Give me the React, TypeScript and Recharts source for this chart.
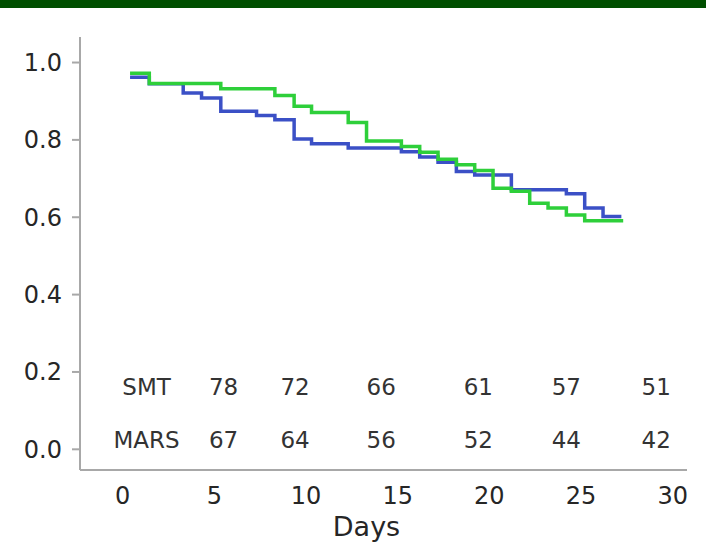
import React from "react";
import {
  ComposedChart,
  Line,
  Scatter,
  XAxis,
  YAxis,
} from "recharts";

// Kaplan-Meier estimates
const smtDays = [0.4, 1.45, 3.3, 4.3, 5.35, 7.3, 8.3, 9.35, 10.3, 12.3, 15.2, 16.2, 17.2, 18.2, 19.2, 21.2, 24.2, 25.2, 26.2, 27.2];
const smtSurv = [0.962, 0.945, 0.921, 0.908, 0.874, 0.863, 0.852, 0.802, 0.79, 0.779, 0.769, 0.756, 0.742, 0.718, 0.709, 0.671, 0.661, 0.624, 0.602, 0.602];

const marsDays = [0.4, 1.45, 5.35, 8.3, 9.35, 10.3, 12.3, 13.3, 15.2, 16.2, 17.2, 18.2, 19.2, 20.2, 21.2, 22.2, 23.2, 24.2, 25.2, 27.3];
const marsSurv = [0.972, 0.946, 0.932, 0.915, 0.887, 0.871, 0.845, 0.797, 0.783, 0.768, 0.75, 0.736, 0.721, 0.675, 0.667, 0.636, 0.624, 0.606, 0.591, 0.591];

// numbers at risk table
const riskGroups = ["SMT", "MARS"];
const riskDays = [5.5, 9.4, 14.1, 19.4, 24.2, 29.1];
const riskSmt = [78, 72, 66, 61, 57, 51];
const riskMars = [67, 64, 56, 52, 44, 42];
const riskLabelDay = 1.3;
const riskRowLevel = [0.161, 0.024];

const xTicks = [0, 5, 10, 15, 20, 25, 30];
const yTicks = [0, 0.2, 0.4, 0.6, 0.8, 1.0];

const smtData = smtDays.map((d, i) => ({ day: d, surv: smtSurv[i] }));
const marsData = marsDays.map((d, i) => ({ day: d, surv: marsSurv[i] }));

const tableData = [riskSmt, riskMars].flatMap((row, r) => [
  { day: riskLabelDay, level: riskRowLevel[r], text: riskGroups[r] },
  ...row.map((n, i) => ({ day: riskDays[i], level: riskRowLevel[r], text: String(n) })),
]);

const FONT = "'DejaVu Sans', Verdana, sans-serif";
const TEXT = "#262626";

const TableText = (props: any) => {
  const { cx, cy, payload } = props;
  return (
    <text
      x={cx}
      y={cy}
      textAnchor="middle"
      dominantBaseline="central"
      fontFamily={FONT}
      fontSize={23}
      fill="#333"
    >
      {payload.text}
    </text>
  );
};

export default function App() {
  return (
    <div
      style={{
        position: "absolute",
        left: 0,
        top: 0,
        width: 706,
        height: 549,
        background: "#fff",
      }}
    >
      <div style={{ position: "absolute", left: 0, top: 0, width: 706, height: 8, background: "#004f00" }} />
      <div style={{ position: "absolute", left: 0, top: 0 }}>
        <ComposedChart
          width={706}
          height={549}
          margin={{ top: 37, right: 19, left: 0, bottom: 0 }}
        >
          <XAxis
            type="number"
            dataKey="day"
            domain={[-2.33, 30.78]}
            ticks={xTicks}
            allowDataOverflow
            height={79}
            stroke="#a8a8a8"
            strokeWidth={2}
            tickLine={false}
            tickSize={8}
            tickMargin={9}
            tick={{ fontFamily: FONT, fontSize: 24, fill: TEXT }}
            label={{
              value: "Days",
              position: "insideBottom",
              offset: 13,
              dx: -17,
              style: { fontFamily: FONT, fontSize: 27, fill: TEXT },
            }}
          />
          <YAxis
            type="number"
            domain={[-0.0535, 1.066]}
            ticks={yTicks}
            allowDataOverflow
            width={80}
            stroke="#a8a8a8"
            strokeWidth={2}
            tickSize={8}
            tickMargin={10}
            tickFormatter={(v: number) => v.toFixed(1)}
            tick={{ fontFamily: FONT, fontSize: 24, fill: TEXT }}
          />
          <Line
            data={smtData}
            dataKey="surv"
            type="stepAfter"
            stroke="#3b50c6"
            strokeWidth={3.5}
            dot={false}
            isAnimationActive={false}
          />
          <Line
            data={marsData}
            dataKey="surv"
            type="stepAfter"
            stroke="#2ecf3a"
            strokeWidth={3.5}
            dot={false}
            isAnimationActive={false}
          />
          <Scatter
            data={tableData}
            dataKey="level"
            shape={TableText}
            isAnimationActive={false}
          />
        </ComposedChart>
      </div>
    </div>
  );
}
